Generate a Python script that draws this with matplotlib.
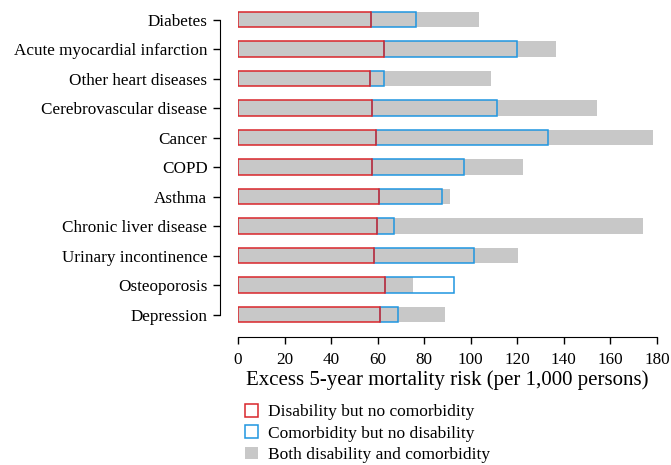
import matplotlib
matplotlib.use("Agg")
import matplotlib.pyplot as plt
from matplotlib.patches import Patch
import numpy as np

plt.rcParams['font.family'] = ['Liberation Serif', 'DejaVu Serif']

# excess 5-year mortality risk per 1,000 persons
conditions = ['Diabetes', 'Acute myocardial infarction', 'Other heart diseases',
              'Cerebrovascular disease', 'Cancer', 'COPD', 'Asthma',
              'Chronic liver disease', 'Urinary incontinence', 'Osteoporosis',
              'Depression']
disability = [57.1, 62.6, 56.8, 57.6, 59.1, 57.4, 60.6, 59.6, 58.4, 63.3, 61.0]
# comorbidity segment, drawn on top of the disability segment
comorbidity = [19.2, 57.1, 6.1, 53.7, 73.9, 39.8, 27.2, 7.4, 42.8, 29.5, 7.9]
both = [103.5, 136.5, 108.7, 154.2, 178.4, 122.3, 91.2, 173.8, 120.3, 75.0, 89.1]

red = '#d9262b'
blue = '#1f96e0'
gray = '#c8c8c8'

fig = plt.figure(figsize=(6.71, 4.65), dpi=100)
ax = fig.add_axes([238 / 671, 1 - 337 / 465, 419 / 671, 332.25 / 465])

y = np.arange(len(conditions))
h = 0.53
ax.barh(y, both, height=h, color=gray, edgecolor='none', zorder=1)
ax.barh(y, disability, height=h, facecolor='none', edgecolor=red, linewidth=1.1, zorder=3)
ax.barh(y, comorbidity, left=disability, height=h, facecolor='none',
        edgecolor=blue, linewidth=1.1, zorder=2)

ax.set_xlim(0, 180)
ax.set_ylim(10.76, -0.5)
ax.set_xticks(np.arange(0, 181, 20))
ax.set_yticks(y)
ax.set_yticklabels(conditions)

for s in ['top', 'right']:
    ax.spines[s].set_visible(False)
ax.spines['left'].set_position(('outward', 13))
ax.spines['left'].set_bounds(0, 10)
ax.spines['bottom'].set_bounds(0, 180)
ax.tick_params(axis='both', length=5, width=1, labelsize=12.3, pad=4)
ax.tick_params(axis='x', pad=5.5)

ax.set_xlabel('Excess 5-year mortality risk (per 1,000 persons)', fontsize=15, labelpad=2)

handles = [Patch(facecolor='white', edgecolor=red, linewidth=1.1),
           Patch(facecolor='white', edgecolor=blue, linewidth=1.1),
           Patch(facecolor=gray, edgecolor='none')]
labels = ['Disability but no comorbidity', 'Comorbidity but no disability',
          'Both disability and comorbidity']
fig.legend(handles, labels, loc='upper left', bbox_to_anchor=(245 / 671, 1 - 404 / 465),
           frameon=False, fontsize=12.5, handlelength=0.75, handleheight=0.75,
           handletextpad=0.6, labelspacing=0.28, borderpad=0, borderaxespad=0)

fig.savefig('out.png', dpi=100)
